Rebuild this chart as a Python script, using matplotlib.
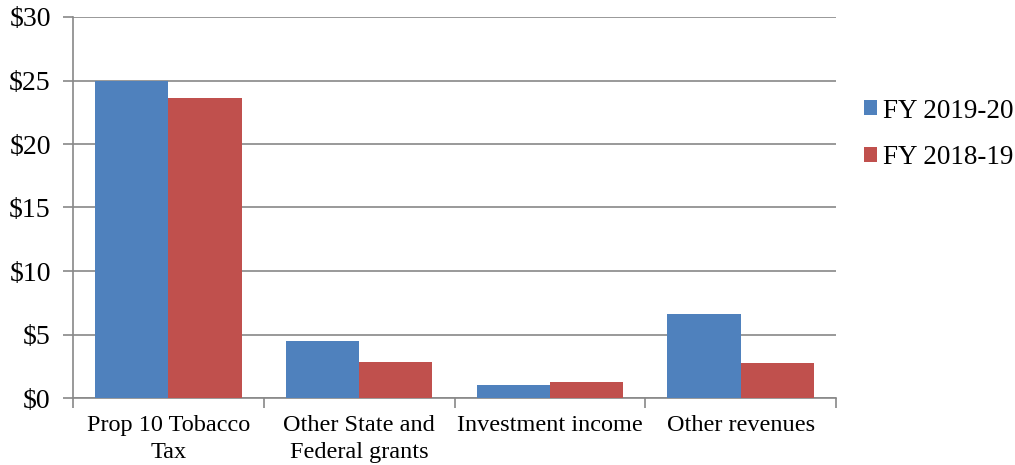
import numpy as np
import matplotlib.pyplot as plt
from matplotlib.ticker import FuncFormatter

categories = ["Prop 10 Tobacco\nTax", "Other State and\nFederal grants", "Investment income", "Other revenues"]
fy_2019_20 = [25.0, 4.5, 1.02, 6.6]
fy_2018_19 = [23.6, 2.83, 1.24, 2.78]
series_names = ["FY 2019-20", "FY 2018-19"]

plt.rcParams['font.family'] = ['Liberation Serif', 'DejaVu Serif']

fig = plt.figure(figsize=(10.15, 4.65), dpi=100)
ax = fig.add_axes([73 / 1015, 1 - 398 / 465, (836 - 73) / 1015, (398 - 17) / 465])

x = np.arange(len(categories))
w = 1 / 2.6
ax.bar(x - w / 2, fy_2019_20, w, color="#4f81bd", label=series_names[0], zorder=3)
ax.bar(x + w / 2, fy_2018_19, w, color="#c0504d", label=series_names[1], zorder=3)

ax.set_xlim(-0.5, len(categories) - 0.5)
ax.set_ylim(0, 30)
ax.set_yticks(range(0, 31, 5))
ax.yaxis.set_major_formatter(FuncFormatter(lambda v, p: f"${v:.0f}"))
ax.grid(axis="y", color="#888888", linewidth=1.2, zorder=0)

ax.set_xticks(x)
ax.set_xticklabels(categories, fontsize=17.5, linespacing=1.4)
ax.set_xticks(np.arange(-0.5, len(categories)), minor=True)
ax.tick_params(axis="x", which="major", length=0, pad=12)
ax.tick_params(axis="x", which="minor", length=7, color="#888888", width=1.2)
ax.tick_params(axis="y", length=7, color="#888888", width=1.2, labelsize=20, pad=9)

for s in ["top", "right"]:
    ax.spines[s].set_visible(False)
for s in ["left", "bottom"]:
    ax.spines[s].set_color("#888888")
    ax.spines[s].set_linewidth(1.2)

ax.legend(loc="upper left", bbox_to_anchor=(1.005, 0.85), frameon=False, fontsize=19.5,
          handlelength=0.48, handleheight=0.48, handletextpad=0.22, labelspacing=0.8)

fig.savefig("out.png", dpi=100)
